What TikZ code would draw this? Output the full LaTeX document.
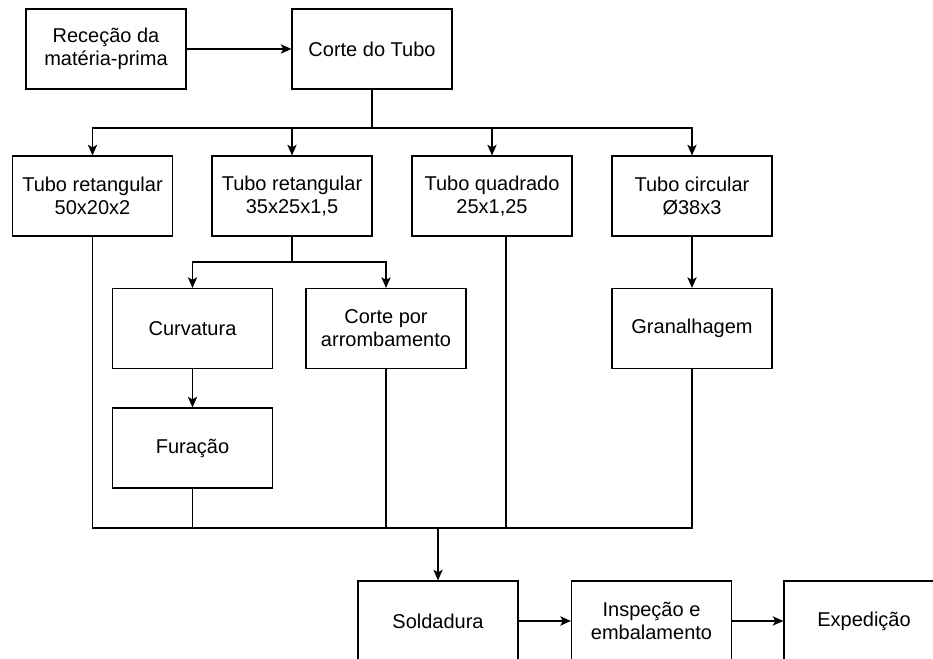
\documentclass[tikz,border=0pt]{standalone}
\usepackage{fontspec}
\setmainfont{Liberation Sans}
\usetikzlibrary{arrows.meta}
\begin{document}
\begin{tikzpicture}[x=0.75pt,y=-0.75pt,
  proc/.style={draw,line width=0.9pt,minimum width=120pt,minimum height=60pt,inner sep=0pt,
    align=center,font=\fontsize{15}{17.4}\selectfont},
  link/.style={line width=0.9pt},
  flow/.style={link,-{Stealth[length=8pt,width=7pt,inset=2pt]}}]
\clip (0,0) rectangle (933,659);
% process steps
\node[proc] (rec) at (106,49) {Receção da\\matéria-prima};
\node[proc] (corte) at (372,49) {Corte do Tubo};
\node[proc] (t1) at (92.5,196) {Tubo retangular\\50x20x2};
\node[proc] (t2) at (292,196) {Tubo retangular\\35x25x1,5};
\node[proc] (t3) at (492,196) {Tubo quadrado\\25x1,25};
\node[proc] (t4) at (692,196) {Tubo circular\\Ø38x3};
\node[proc] (curv) at (192.5,328.5) {Curvatura};
\node[proc] (arr) at (386,328.5) {Corte por\\arrombamento};
\node[proc] (gran) at (692,328.5) {Granalhagem};
\node[proc] (fur) at (192.5,448) {Furação};
\node[proc] (sold) at (438,621) {Soldadura};
\node[proc] (insp) at (651.5,621) {Inspeção e\\embalamento};
\node[proc] (exp) at (864,621) {Expedição};
% branch and merge points
\coordinate (b1) at (372,128);
\coordinate (b2) at (292,262);
\coordinate (m) at (438,528);
\coordinate (q) at (506,236);
% main line
\draw[flow] (rec) -- (corte);
\draw[link] (corte.south) -- (b1);
\draw[flow] (b1) -| (t1.north);
\draw[flow] (b1) -| (t2.north);
\draw[flow] (b1) -| (t3.north);
\draw[flow] (b1) -| (t4.north);
% rectangular tube 35x25
\draw[link] (t2.south) -- (b2);
\draw[flow] (b2) -| (curv.north);
\draw[flow] (b2) -| (arr.north);
\draw[flow] (curv) -- (fur);
% circular tube
\draw[flow] (t4) -- (gran);
% merge into welding
\draw[link] (t1.south) |- (m);
\draw[link] (fur.south) -- (fur.south |- m);
\draw[link] (arr.south) -- (arr.south |- m);
\draw[link] (q) -- (q |- m);
\draw[link] (gran.south) |- (m);
\draw[flow] (m) -- (sold);
\draw[flow] (sold) -- (insp);
\draw[flow] (insp) -- (exp);
\end{tikzpicture}
\end{document}
